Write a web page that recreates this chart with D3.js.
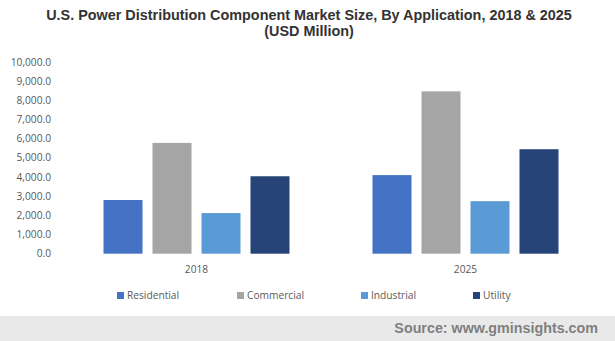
<!DOCTYPE html>
<html>
<head>
<meta charset="utf-8">
<script src="https://cdn.jsdelivr.net/npm/d3@7"></script>
<style>
    body { margin: 0; background: #fff; }
    svg { display: block; }
    .title { font-family: "Liberation Sans", Arial, sans-serif; font-weight: bold; font-size: 14.4px; fill: #333; }
    .tick-label { font-family: "Open Sans", "Noto Sans", sans-serif; font-size: 10.2px; fill: #595959; }
    .source { font-family: "Liberation Sans", Arial, sans-serif; font-weight: bold; font-size: 14.3px; fill: #7f7f7f; }
</style>
</head>
<body>
<svg id="chart" width="615" height="341"></svg>
<script>
// Data
const categories = ['2018', '2025'];
const seriesNames = ['Residential', 'Commercial', 'Industrial', 'Utility'];
const residential = [2800, 4100];
const commercial = [5780, 8470];
const industrial = [2120, 2740];
const utility = [4040, 5450];
const yTicks = [0, 1000, 2000, 3000, 4000, 5000, 6000, 7000, 8000, 9000, 10000];
const colors = ['#4472C4', '#A5A5A5', '#5B9BD5', '#264478'];

const values = [residential, commercial, industrial, utility];

const width = 615, height = 341;
const svg = d3.select('#chart');

// Title
svg.append('text').attr('class', 'title')
    .attr('x', 309).attr('y', 20).attr('text-anchor', 'middle')
    .text('U.S. Power Distribution Component Market Size, By Application, 2018 & 2025');
svg.append('text').attr('class', 'title')
    .attr('x', 309).attr('y', 36).attr('text-anchor', 'middle')
    .text('(USD Million)');

// Scales
const y = d3.scaleLinear().domain([0, 10000]).range([253.7, 62]);
const x0 = d3.scaleBand().domain(categories).range([62, 600]);
const x1 = d3.scaleBand().domain(seriesNames)
    .range([0, x0.bandwidth()])
    .paddingInner(0.204)
    .paddingOuter(0.847);

// Y axis labels (no line, no gridlines)
svg.append('g').selectAll('text')
    .data(yTicks)
    .join('text')
    .attr('class', 'tick-label')
    .attr('x', 51)
    .attr('y', d => y(d))
    .attr('dy', '0.35em')
    .attr('text-anchor', 'end')
    .text(d => d3.format(',.1f')(d));

// Bars
const groups = svg.append('g').selectAll('g')
    .data(categories)
    .join('g')
    .attr('transform', d => `translate(${x0(d)},0)`);

groups.selectAll('rect')
    .data((c, i) => seriesNames.map((s, j) => ({ series: s, value: values[j][i], color: colors[j] })))
    .join('rect')
    .attr('x', d => x1(d.series))
    .attr('width', x1.bandwidth())
    .attr('y', d => y(d.value))
    .attr('height', d => y(0) - y(d.value))
    .attr('fill', d => d.color);

// Category labels
svg.append('g').selectAll('text')
    .data(categories)
    .join('text')
    .attr('class', 'tick-label')
    .attr('x', d => x0(d) + x0.bandwidth() / 2)
    .attr('y', 269)
    .attr('dy', '0.35em')
    .attr('text-anchor', 'middle')
    .text(d => d);

// Legend
const legendX = [117, 237, 361, 473];
const legend = svg.append('g').selectAll('g')
    .data(seriesNames)
    .join('g')
    .attr('transform', (d, i) => `translate(${legendX[i]},292)`);
legend.append('rect')
    .attr('width', 7).attr('height', 7)
    .attr('fill', (d, i) => colors[i]);
legend.append('text')
    .attr('class', 'tick-label')
    .attr('x', 10).attr('y', 3.5).attr('dy', '0.35em')
    .text(d => d);

// Footer band
svg.append('rect')
    .attr('x', 0).attr('y', 316)
    .attr('width', width).attr('height', height - 316)
    .attr('fill', '#e9e9e9');
svg.append('text').attr('class', 'source')
    .attr('x', 598).attr('y', 328).attr('dy', '0.35em')
    .attr('text-anchor', 'end')
    .text('Source: www.gminsights.com');
</script>
</body>
</html>
